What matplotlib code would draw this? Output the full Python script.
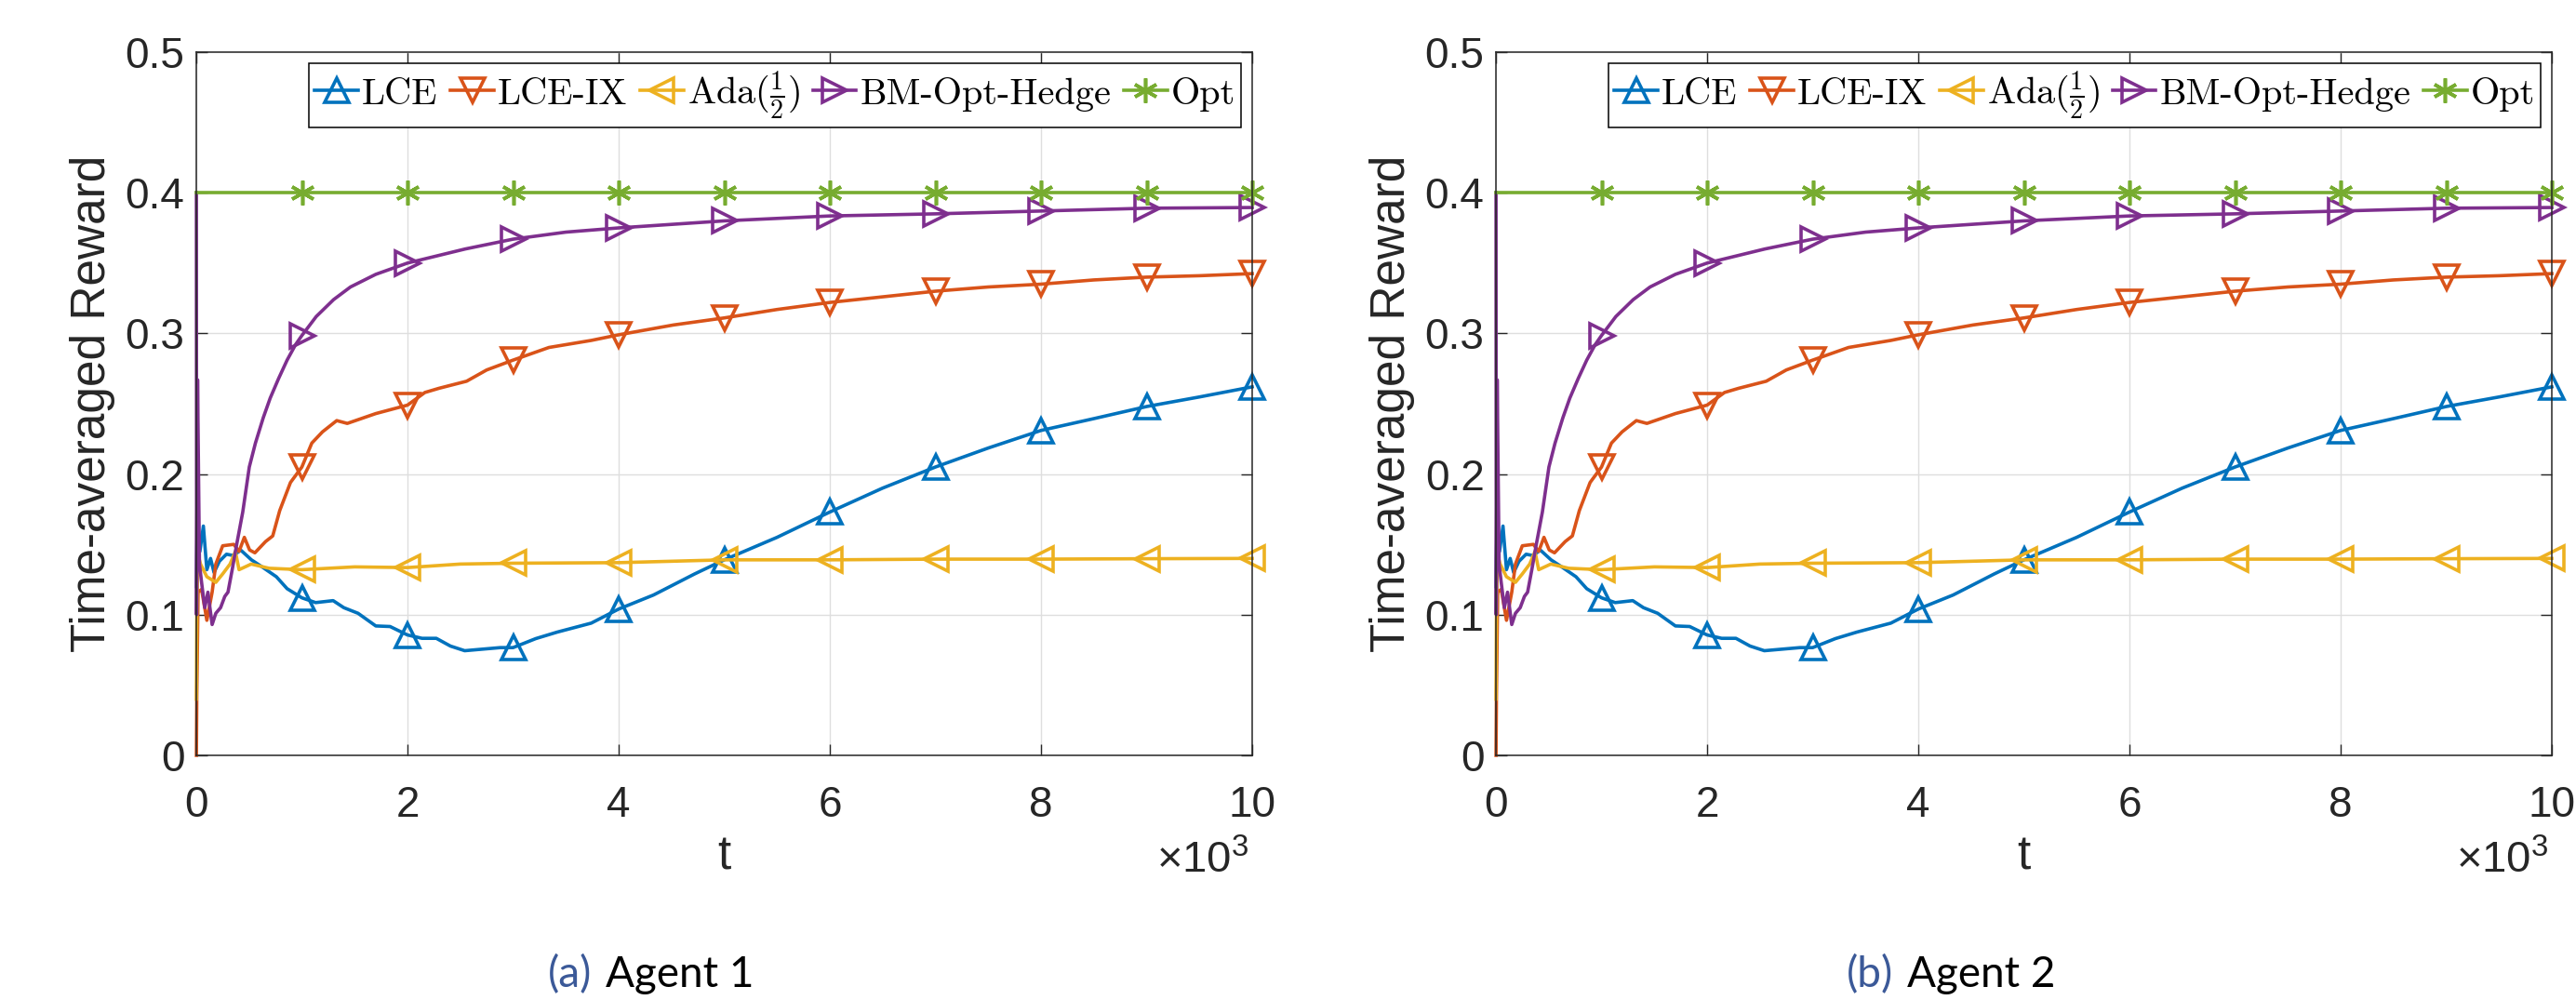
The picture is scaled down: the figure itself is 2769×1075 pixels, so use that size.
import matplotlib
matplotlib.use("Agg")
import matplotlib.pyplot as plt
import numpy as np
from matplotlib.font_manager import FontProperties

# %% data (both agents look the same)
lce_t = [1, 10, 34, 67, 100, 135, 168, 219, 286, 354, 420, 522, 623, 758, 860,
         1000, 1130, 1296, 1397, 1532, 1700, 1835, 2000, 2138, 2273, 2407, 2542,
         2710, 2879, 3000, 3215, 3417, 3740, 4000, 4330, 4720, 5000, 5500, 6000,
         6500, 7000, 7500, 8000, 8500, 9000, 9500, 10000]
lce_v = [0.12, 0.169, 0.145, 0.163, 0.132, 0.14, 0.13, 0.138, 0.143, 0.142, 0.146,
         0.139, 0.134, 0.127, 0.1185, 0.112, 0.1086, 0.11, 0.105, 0.101, 0.092,
         0.0916, 0.0856, 0.0832, 0.0832, 0.0777, 0.0744, 0.0755, 0.0766, 0.0766,
         0.083, 0.0876, 0.094, 0.104, 0.114, 0.129, 0.139, 0.155, 0.173, 0.19,
         0.205, 0.2185, 0.231, 0.2394, 0.248, 0.2548, 0.262]

ix_t = [1, 5, 17, 50, 100, 150, 185, 250, 355, 405, 455, 505, 555, 656, 724, 790,
        892, 1000, 1094, 1195, 1330, 1430, 1700, 2000, 2165, 2300, 2560, 2750,
        3000, 3340, 3740, 4000, 4520, 5000, 5500, 6000, 6500, 7000, 7500, 8000,
        8500, 9000, 9500, 10000]
ix_v = [0.0, 0.043, 0.116, 0.118, 0.096, 0.116, 0.136, 0.149, 0.150, 0.145, 0.155,
        0.146, 0.144, 0.152, 0.156, 0.174, 0.194, 0.205, 0.222, 0.23, 0.238, 0.236,
        0.243, 0.249, 0.258, 0.261, 0.266, 0.274, 0.281, 0.29, 0.295, 0.299, 0.306,
        0.311, 0.317, 0.322, 0.326, 0.33, 0.333, 0.335, 0.338, 0.340, 0.341, 0.3425]

ada_t = [1, 5, 15, 40, 100, 185, 250, 320, 370, 405, 520, 690, 1000, 1500, 2000,
         2500, 3000, 4000, 5000, 6000, 7000, 8000, 9000, 10000]
ada_v = [0.04, 0.10, 0.143, 0.136, 0.127, 0.123, 0.129, 0.136, 0.145, 0.132, 0.136,
         0.133, 0.132, 0.134, 0.1335, 0.136, 0.1366, 0.137, 0.139, 0.139, 0.1395,
         0.1395, 0.1398, 0.14]

bm_t = [1, 3, 12, 30, 50, 80, 110, 150, 185, 230, 270, 300, 340, 380, 440, 502,
        560, 634, 700, 780, 860, 940, 1000, 1136, 1300, 1460, 1700, 2000, 2546,
        3000, 3500, 4000, 5000, 6000, 7000, 8000, 9000, 10000]
bm_v = [0.4, 0.1, 0.267, 0.136, 0.123, 0.105, 0.116, 0.093, 0.101, 0.105, 0.113,
        0.116, 0.132, 0.149, 0.173, 0.205, 0.222, 0.24, 0.254, 0.268, 0.281, 0.292,
        0.2985, 0.312, 0.324, 0.333, 0.342, 0.35, 0.36, 0.367, 0.372, 0.375, 0.380,
        0.3835, 0.385, 0.387, 0.389, 0.3895]

opt_t = [0, 1000, 2000, 3000, 4000, 5000, 6000, 7000, 8000, 9000, 10000]
opt_v = [0.4, 0.4, 0.4, 0.4, 0.4, 0.4, 0.4, 0.4, 0.4, 0.4, 0.4]

mark_t = [1000, 2000, 3000, 4000, 5000, 6000, 7000, 8000, 9000, 10000]

labels = ["LCE", "LCE-IX", r"Ada$(\frac{1}{2})$", "BM-Opt-Hedge", "Opt"]
colors = ["#0072BD", "#D95319", "#EDB120", "#7E2F8E", "#77AC30"]
markers = ["^", "v", "<", ">", (6, 2, 0)]
series = [(lce_t, lce_v), (ix_t, ix_v), (ada_t, ada_v), (bm_t, bm_v), (opt_t, opt_v)]

xticks = [0, 2000, 4000, 6000, 8000, 10000]
xticklabels = ["0", "2", "4", "6", "8", "10"]
yticks = [0, 0.1, 0.2, 0.3, 0.4, 0.5]
yticklabels = ["0", "0.1", "0.2", "0.3", "0.4", "0.5"]
captions = [("(a)", "Agent 1"), ("(b)", "Agent 2")]

# %% style
plt.rcParams["font.family"] = ["Liberation Sans", "DejaVu Sans"]
plt.rcParams["mathtext.fontset"] = "custom"
plt.rcParams["mathtext.rm"] = "Liberation Sans"
plt.rcParams["mathtext.it"] = "Liberation Sans:italic"
axc = "#262626"

fig = plt.figure(figsize=(27.69, 10.75), dpi=100)
lefts = [211 / 2769, 1608 / 2769]
capx = [643 / 2769, 2042 / 2769]
leg_prop = FontProperties(family="cmr10", size=29, math_fontfamily="cm")

for k in range(2):
    ax = fig.add_axes([lefts[k], 1 - 812 / 1075, 1135 / 2769, 756 / 1075])
    for (t, v), lab, c, m in zip(series, labels, colors, markers):
        idx = [i for i, tt in enumerate(t) if tt in mark_t]
        ax.plot(t, v, color=c, lw=2.6, marker=m, markevery=idx, ms=19,
                mfc="none", mec=c, mew=2.6, label=lab, clip_on=False)
    ax.set_xlim(0, 10000)
    ax.set_ylim(0, 0.5)
    ax.set_xticks(xticks)
    ax.set_xticklabels(xticklabels)
    ax.set_yticks(yticks)
    ax.set_yticklabels(yticklabels)
    ax.grid(True, color="#dedede", lw=1)
    ax.set_axisbelow(True)
    ax.tick_params(direction="in", top=True, right=True, length=8.5, width=1,
                   colors=axc, labelsize=33)
    ax.tick_params(axis="x", pad=23)
    ax.tick_params(axis="y", pad=9)
    for s in ax.spines.values():
        s.set_color(axc)
        s.set_linewidth(1.1)
    ax.set_xlabel("t", fontsize=37, color=axc, labelpad=6)
    ax.set_ylabel("Time-averaged Reward", fontsize=37, color=axc, labelpad=8)
    ax.text(0.9965, -0.15, r"$\times10^{3}$", transform=ax.transAxes,
            ha="right", va="center", fontsize=34, color=axc)
    leg = ax.legend(loc="upper right", ncol=5, prop=leg_prop, frameon=True,
                    fancybox=False, edgecolor="black", framealpha=1,
                    handlelength=1.15, handletextpad=0.1, columnspacing=0.35,
                    borderpad=0.15, borderaxespad=0.3)
    leg.get_frame().set_linewidth(1.1)

    # caption under each panel
    fig.text(capx[k] - 7 / 2769, 0.013, captions[k][0], ha="right", va="baseline",
             fontsize=33, family="Lato", color="#3b5998")
    fig.text(capx[k] + 8 / 2769, 0.013, captions[k][1], ha="left", va="baseline",
             fontsize=33, family="Lato", color="black")

fig.savefig("out.png", dpi=100)
